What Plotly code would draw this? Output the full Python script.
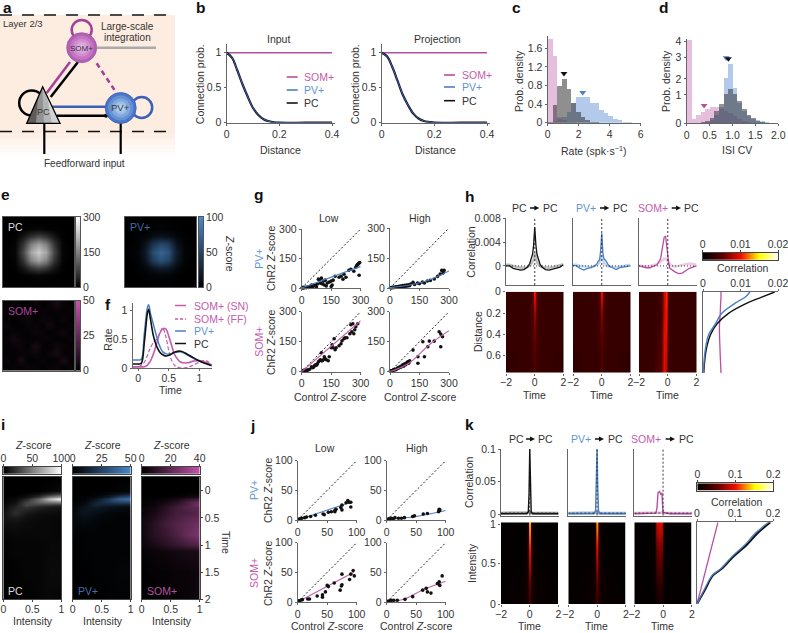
import plotly.graph_objects as go

W, H = 788, 633
INK = "#333333"
SOM = "#b64fa4"
SOM_TXT = "#c45cab"
PV = "#4a7fc2"
PV_TXT = "#5f93d3"
AXC = "#666666"
FONT = "Liberation Sans"

# b: connection probability
b_dist = [0, .02, .04, .06, .08, .1, .12, .14, .16, .18, .2, .3, .4]
b_som = [1, 1, 1, 1, 1, 1, 1, 1, 1, 1, 1, 1, 1]
b_input_exc = [1, .93, .75, .55, .37, .21, .11, .05, .02, .005, 0, 0, 0]
b_proj_exc = [1, .95, .8, .6, .4, .25, .13, .06, .025, .01, 0, 0, 0]

# c: rate histograms
c_bins = [.15, .45, .75, 1.05, 1.35, 1.65, 1.95, 2.25, 2.55, 2.85, 3.15, 3.45, 3.75, 4.05, 4.35, 4.65, 4.95, 5.25, 5.55, 5.85]
c_som = [1.8, 1.43, .13, .05, .02, .01, 0, 0, 0, 0, 0, 0, 0, 0, 0, 0, 0, 0, 0, 0]
c_pc = [.02, .38, .8, .95, .73, .42, .24, .12, .05, .02, .01, 0, 0, 0, 0, 0, 0, 0, 0, 0]
c_pv = [0, .03, .08, .12, .22, .42, .55, .55, .55, .43, .43, .28, .2, .14, .08, .05, .02, .01, 0, 0]
c_mark_x = [.13, 1.05, 2.26]
c_mark_y = [1.92, 1.06, .65]

# d: ISI CV histograms
d_bins = [.05, .15, .25, .35, .45, .55, .65, .75, .85, .95, 1.05, 1.15, 1.25, 1.35, 1.45, 1.55, 1.65, 1.75, 1.85, 1.95]
d_som = [4.05, .2, .37, .53, .7, .8, .8, .7, .6, .5, .35, .2, .1, .05, .02, 0, 0, 0, 0, 0]
d_pc = [0, 0, 0, .03, .1, .25, .6, .95, 1.4, 1.65, 1.4, 1.05, .7, .4, .25, .1, .05, .02, 0, 0]
d_pv = [0, 0, 0, 0, .05, .15, .4, .8, 2.2, 2.9, 1.7, 1.0, .6, .35, .2, .13, .1, .05, .02, 0]
d_mark_x = [.38, .86, .91]
d_mark_y = [.86, 3.19, 3.14]
d_tick_pos = [0, 1.37, 2.15, 3.22, 4]
d_tick_txt = ["0", "1", "2", "3", "4"]

# e: receptive fields
e_pc = [[0, 0, 0, 0, 0, 0, 0, 0, 0],
        [0, 0, 2, 5, 8, 5, 2, 0, 0],
        [0, 2, 25, 60, 80, 60, 25, 2, 0],
        [0, 5, 60, 150, 190, 150, 60, 5, 0],
        [0, 8, 85, 195, 240, 195, 80, 8, 0],
        [0, 5, 60, 155, 195, 155, 60, 5, 0],
        [0, 2, 25, 65, 85, 65, 25, 2, 0],
        [0, 0, 2, 5, 8, 5, 2, 0, 0],
        [0, 0, 0, 0, 0, 0, 0, 0, 0]]
e_pv = [[0, 0, 0, 1, 1, 1, 0, 0, 0],
        [0, 0, 1, 2, 3, 2, 1, 0, 0],
        [0, 1, 4, 10, 14, 12, 5, 1, 0],
        [0, 2, 12, 38, 52, 45, 15, 3, 0],
        [1, 3, 18, 55, 72, 62, 22, 4, 1],
        [0, 2, 14, 45, 60, 50, 18, 3, 0],
        [0, 1, 5, 15, 22, 18, 7, 1, 0],
        [0, 0, 1, 3, 4, 3, 1, 0, 0],
        [0, 0, 0, 1, 1, 1, 0, 0, 0]]
e_som = [[1, 2, 1, 0, 3, 1, 2, 6, 2, 1],
         [2, 1, 3, 1, 1, 2, 1, 2, 1, 2],
         [1, 0, 2, 4, 1, 3, 2, 1, 3, 1],
         [3, 1, 1, 2, 2, 1, 5, 1, 1, 2],
         [1, 2, 1, 1, 3, 2, 1, 2, 4, 1],
         [2, 5, 2, 1, 1, 2, 2, 1, 1, 2],
         [1, 2, 3, 1, 7, 1, 1, 4, 2, 1],
         [1, 1, 2, 2, 3, 1, 3, 6, 1, 2],
         [2, 1, 6, 1, 1, 2, 1, 1, 7, 1],
         [1, 2, 1, 3, 2, 1, 2, 3, 1, 2]]
cbar_steps = [0, .25, .5, .75, 1]

# f: rate traces
f_t = [-.09, -.05, 0, .05, .1, .15, .17, .2, .25, .3, .35, .4, .45, .5, .55, .6, .7, .8, .9, 1, 1.1, 1.2]
f_pc = [.07, .07, .07, .08, .45, .95, 1.02, .85, .55, .38, .28, .23, .21, .22, .25, .28, .29, .24, .18, .12, .08, .04]
f_pv = [.14, .14, .14, .15, .6, 1.05, 1.1, .95, .75, .55, .38, .28, .25, .24, .25, .27, .28, .23, .17, .12, .08, .05]
f_sn = [.02, .02, .02, .02, .02, .05, .08, .12, .25, .42, .6, .68, .68, .55, .38, .22, .1, .09, .12, .13, .1, .05]
f_ff = [.02, .02, .02, .05, .1, .22, .28, .35, .45, .5, .6, .7, .55, .3, .12, .04, 0, .01, .05, .1, .13, .05]

# g: ChR2 vs control scatter
g_pv_low_x = [2, 5, 8, 10, 15, 20, 25, 30, 35, 40, 45, 50, 55, 60, 70, 75, 80, 85, 90, 95, 100, 105, 110, 115, 120, 125, 130, 140, 150, 150, 155, 160, 170, 190, 200, 210, 215, 225, 240, 250, 265, 275, 280, 285, 290, 295, 292]
g_pv_low_y = [1, 2, 0, 3, 1, 4, 2, 5, 3, 8, 5, 15, 4, 12, 15, 5, 20, 45, 40, 25, 50, 20, 35, 15, 40, 10, 25, 30, 35, 8, 15, 40, 60, 55, 60, 45, 70, 55, 90, 95, 85, 105, 115, 120, 125, 130, 65]
g_pv_low_fit_x = [0, 300]
g_pv_low_fit_y = [0, 110]
g_pv_high_x = [2, 5, 8, 12, 16, 20, 25, 30, 35, 40, 45, 50, 55, 60, 65, 70, 75, 80, 85, 90, 95, 100, 105, 117, 125, 140, 150, 165, 175, 190, 205, 225, 242, 255, 263, 270, 275]
g_pv_high_y = [1, 2, 1, 3, 2, 4, 3, 5, 6, 4, 8, 6, 10, 7, 12, 8, 14, 9, 15, 10, 16, 12, 20, 28, 18, 25, 22, 30, 25, 35, 38, 45, 58, 70, 88, 75, 88]
g_pv_high_fit_x = [0, 100, 200, 300]
g_pv_high_fit_y = [2, 15, 40, 85]
g_som_low_x = [5, 10, 15, 20, 25, 30, 35, 40, 50, 55, 60, 65, 70, 75, 80, 85, 90, 95, 100, 100, 105, 110, 115, 120, 125, 135, 140, 150, 155, 160, 165, 170, 175, 190, 200, 205, 215, 220, 230, 245, 250, 255, 265, 270, 275, 285, 260]
g_som_low_y = [5, 7, 5, 8, 6, 8, 10, 12, 25, 20, 22, 30, 35, 32, 40, 50, 55, 60, 55, 95, 55, 60, 75, 65, 60, 55, 75, 120, 135, 120, 165, 110, 120, 130, 140, 155, 165, 170, 170, 190, 235, 200, 190, 210, 225, 240, 240]
g_som_low_fit_x = [0, 300]
g_som_low_fit_y = [0, 255]
g_som_high_x = [2, 5, 8, 12, 16, 20, 25, 30, 35, 40, 45, 50, 55, 60, 65, 70, 75, 80, 85, 90, 95, 100, 117, 142, 142, 167, 175, 192, 200, 225, 250, 258, 258, 267]
g_som_high_y = [3, 5, 4, 6, 8, 8, 12, 10, 15, 20, 18, 25, 22, 30, 35, 28, 40, 35, 45, 50, 42, 55, 108, 75, 42, 150, 75, 125, 153, 153, 200, 188, 125, 175]
g_som_high_fit_x = [0, 100, 200, 300]
g_som_high_fit_y = [0, 45, 135, 205]
g_diag = [0, 300]

# h: correlograms and heat maps
h_t = [-2, -1.75, -1.5, -1.25, -1, -.75, -.5, -.35, -.25, -.15, -.08, 0, .08, .15, .25, .35, .5, .75, 1, 1.25, 1.5, 1.75, 2]
h_pc = [0, 0, -.0004, -.0006, -.0007, -.0006, -.0002, .0004, .0012, .002, .0035, .0065, .0035, .002, .0012, .0004, -.0002, -.0006, -.0007, -.0005, -.0004, -.0002, .0002]
h_pc_ff = [.0002, .0002, 0, -.0002, -.0003, -.0003, -.0002, 0, .0003, .0006, .001, .0022, .001, .0006, .0003, 0, -.0002, -.0003, -.0003, -.0002, 0, .0002, .0003]
h_pv = [.0001, 0, -.0004, -.0007, -.0004, -.0003, 0, .0003, .0008, .001, .0025, .0055, .0022, .0012, .001, .0005, 0, -.0003, -.0006, -.0003, -.0002, -.0001, 0]
h_pv_ff = [.0002, .0002, 0, -.0001, -.0002, -.0002, 0, .0002, .0003, .0006, .001, .0018, .001, .0005, .0003, 0, -.0001, -.0002, -.0002, -.0001, 0, .0001, .0002]
h_som = [0, -.0002, -.0003, -.0003, -.0001, .0002, .0012, .0035, .0048, .005, .0035, .0012, .0002, -.0004, -.0006, -.0008, -.001, -.0013, -.0012, -.0008, -.0004, -.0002, 0]
h_som_ff = [.0001, 0, -.0001, 0, .0001, .0003, .0007, .001, .0012, .0012, .001, .0007, .0004, .0002, .0001, 0, -.0001, 0, .0002, .0003, .0004, .0003, .0002]
h_ref_x = [-2, 2]
h_ref_y = [-.0032, .008]
h_dist = [0, .05, .1, .2, .3, .4, .5, .6, .76]
h_hm_t = [-2, -1, -.5, -.25, -.12, -.05, 0, .05, .12, .25, .5, 1, 2]
h_hm_pc = [[.003, .003, .003, .0035, .0055, .010, .018, .010, .0055, .0035, .003, .003, .003],
           [.003, .003, .003, .0035, .0055, .0095, .0165, .0095, .0055, .0035, .003, .003, .003],
           [.003, .003, .003, .0035, .0055, .0085, .0125, .0085, .0055, .0035, .003, .003, .003],
           [.003, .003, .003, .0035, .005, .007, .0095, .007, .005, .0035, .003, .003, .003],
           [.003, .003, .003, .0035, .0045, .006, .0075, .006, .0045, .0035, .003, .003, .003],
           [.003, .003, .003, .0035, .0045, .0055, .0065, .0055, .0045, .0035, .003, .003, .003],
           [.003, .003, .003, .0035, .004, .005, .006, .005, .004, .0035, .003, .003, .003],
           [.0025, .003, .003, .0035, .004, .0045, .0055, .0045, .004, .0035, .003, .003, .0025],
           [.0025, .003, .003, .003, .0035, .004, .005, .004, .0035, .003, .003, .003, .0025]]
h_hm_pv = [[.003, .003, .003, .0035, .0055, .0095, .0155, .0095, .0055, .0035, .003, .003, .003],
           [.003, .003, .003, .0035, .0055, .009, .014, .009, .0055, .0035, .003, .003, .003],
           [.003, .003, .003, .0035, .005, .008, .0115, .008, .005, .0035, .003, .003, .003],
           [.003, .003, .003, .0035, .0045, .0065, .0085, .0065, .0045, .0035, .003, .003, .003],
           [.003, .003, .003, .0035, .0045, .0055, .007, .0055, .0045, .0035, .003, .003, .003],
           [.003, .003, .003, .0035, .004, .005, .006, .005, .004, .0035, .003, .003, .003],
           [.003, .003, .003, .0035, .004, .0045, .0055, .0045, .004, .0035, .003, .003, .003],
           [.0025, .003, .003, .003, .0035, .004, .005, .004, .0035, .003, .003, .003, .0025],
           [.0025, .003, .003, .003, .0035, .004, .0045, .004, .0035, .003, .003, .003, .0025]]
h_hm_som = [[.003, .003, .0035, .0085, .0105, .009, .0055, .004, .0033, .003, .003, .003, .003],
            [.003, .003, .0035, .0085, .0105, .009, .0055, .004, .0033, .003, .003, .003, .003],
            [.003, .003, .0035, .0085, .0105, .009, .0055, .004, .0033, .003, .003, .003, .003],
            [.003, .003, .0035, .0085, .01, .0085, .0055, .004, .0033, .003, .003, .003, .003],
            [.003, .003, .0038, .009, .01, .008, .005, .004, .0033, .003, .003, .003, .003],
            [.003, .003, .004, .0095, .0095, .0075, .005, .0038, .0033, .003, .003, .003, .003],
            [.003, .003, .0042, .0095, .009, .007, .0048, .0037, .0033, .003, .003, .003, .003],
            [.003, .003, .0045, .0095, .0085, .0065, .0045, .0036, .0032, .003, .003, .003, .003],
            [.003, .003, .005, .0095, .008, .006, .0045, .0035, .0032, .003, .003, .003, .003]]
h_side_pc_x = [.0191, .0155, .012, .0068, .0037, .002, .0011, .0006, .0002]
h_side_pv_x = [.0125, .0112, .0088, .005, .0033, .0015, .0008, .0004, .0001]
h_side_som_x = [.0048, .0048, .0047, .0046, .0044, .0044, .0045, .0046, .0048]

# i: z-score maps
i_int = [0, .2, .4, .6, .8, 1]
i_t = [-.26, 0, .05, .1, .15, .2, .25, .3, .4, .5, .6, .8, 1, 1.1, 1.5, 2]
i_pc = [[0, 0, 0, 0, 0, 0], [0, 0, 0, 0, 2, 4], [0, 0, 2, 6, 15, 25], [0, 2, 6, 18, 45, 60],
        [1, 3, 15, 40, 75, 100], [2, 6, 25, 40, 50, 55], [3, 10, 28, 25, 22, 18], [4, 14, 20, 14, 10, 8],
        [6, 18, 10, 6, 5, 4], [8, 10, 6, 4, 3, 3], [5, 6, 4, 3, 3, 2], [2, 3, 3, 3, 3, 2],
        [1, 2, 2, 2, 3, 3], [1, 2, 2, 2, 3, 3], [0, 1, 2, 2, 4, 4], [0, 1, 1, 2, 3, 2]]
i_pv = [[0, 0, 0, 0, 0, 0], [0, 0, 0, 0, 1, 2], [0, 0, 1, 3, 7, 12], [0, 1, 3, 9, 22, 30],
        [0, 1, 7, 20, 36, 42], [1, 3, 12, 20, 25, 27], [1, 5, 14, 12, 11, 9], [2, 7, 10, 7, 5, 4],
        [3, 8, 5, 3, 2, 2], [3, 5, 3, 2, 1, 1], [2, 3, 2, 1, 1, 1], [1, 1, 1, 1, 1, 1],
        [0, 1, 1, 1, 1, 1], [0, 1, 1, 1, 1, 1], [0, 0, 1, 1, 2, 2], [0, 0, 0, 1, 1, 1]]
i_som = [[0, 0, 0, 0, 0, 0], [0, 0, 0, 0, 0, 0], [0, 0, 0, 0, 1, 2], [0, 0, 1, 2, 3, 5],
         [0, 1, 2, 5, 9, 13], [1, 2, 4, 8, 15, 22], [1, 2, 6, 11, 16, 24], [2, 3, 8, 13, 18, 20],
         [2, 5, 9, 14, 15, 18], [3, 6, 11, 15, 18, 20], [3, 8, 13, 17, 20, 23], [3, 8, 11, 16, 21, 26],
         [2, 5, 8, 11, 14, 17], [1, 2, 3, 4, 5, 6], [0, 1, 1, 2, 2, 3], [0, 0, 1, 1, 2, 3]]

# j: ChR2 vs control scatter, intensity protocol
j_pv_low_x = [2, 4, 7, 12, 15, 22, 30, 43, 45, 52, 57, 63, 65, 63, 73, 75, 75, 82, 85, 90, 90, 87]
j_pv_low_y = [1, 2, 3, 4, 5, 6, 8, 10, 9, 13, 14, 16, 18, 14, 21, 25, 17, 29, 33, 30, 22, 30]
j_pv_low_fit_x = [0, 90]
j_pv_low_fit_y = [0, 30]
j_pv_high_x = [2, 4, 6, 8, 11, 14, 20, 25, 30, 44, 47, 62, 69, 88, 89, 89, 90]
j_pv_high_y = [1, 2, 1, 3, 2, 4, 3, 3, 4, 6, 7, 10, 11, 14, 18, 16, 17]
j_pv_high_fit_x = [0, 50, 100]
j_pv_high_fit_y = [1, 6, 16]
j_som_low_x = [2, 5, 8, 17, 20, 33, 42, 42, 47, 50, 52, 62, 72, 74, 75, 75, 88, 90, 94, 96]
j_som_low_y = [2, 3, 4, 5, 5, 10, 8, 12, 17, 28, 26, 32, 20, 27, 29, 47, 38, 47, 53, 44]
j_som_low_fit_x = [0, 95]
j_som_low_fit_y = [0, 50]
j_som_high_x = [2, 5, 8, 12, 18, 31, 44, 61, 67, 69, 75, 86, 89, 90, 94]
j_som_high_y = [1, 2, 3, 3, 3, 4.5, 9, 20, 23, 17, 15, 31, 34, 28, 44]
j_som_high_fit_x = [0, 30, 60, 100]
j_som_high_fit_y = [0, 5, 20, 35]
j_diag = [0, 100]

# k: intensity correlograms
k_t = [-2, -1, -.5, -.2, -.1, -.05, 0, .05, .1, .2, .5, 1, 2]
k_pc = [.001, .001, .001, .001, .004, .03, .1, .03, .004, .001, .001, .001, .001]
k_pv = [.001, .001, .001, .001, .006, .04, .1, .04, .006, .001, .001, .001, .001]
k_ff = [.002, .002, .002, .002, .002, .003, .004, .003, .002, .002, .002, .002, .002]
k_som_t = [-2, -1, -.5, -.42, -.35, -.25, -.15, -.08, -.03, 0, .5, 1, 2]
k_som = [.001, .001, .002, .01, .033, .035, .03, .033, .01, .003, .001, .001, .001]
k_ref_x = [-2, 2]
k_ref_y = [-.002, .1]
k_int = [0, .25, .5, .75, 1]
k_hm_t = [-2, -.5, -.2, -.08, -.03, 0, .03, .08, .2, .5, 2]
k_hm_pc = [[.003, .005, .01, .018, .03, .035, .03, .018, .01, .005, .003],
           [.002, .005, .01, .025, .05, .06, .05, .025, .01, .005, .002],
           [.002, .003, .008, .03, .08, .09, .08, .03, .008, .003, .002],
           [.001, .002, .006, .03, .11, .125, .11, .03, .006, .002, .001],
           [.001, .002, .005, .03, .135, .155, .135, .03, .005, .002, .001]]
k_hm_pv = [[.003, .005, .01, .018, .03, .035, .03, .018, .01, .005, .003],
           [.002, .005, .01, .025, .05, .055, .05, .025, .01, .005, .002],
           [.002, .003, .008, .03, .075, .085, .075, .03, .008, .003, .002],
           [.001, .002, .006, .03, .105, .12, .105, .03, .006, .002, .001],
           [.001, .002, .005, .03, .13, .15, .13, .03, .005, .002, .001]]
k_som_hm_t = [-2, -.6, -.45, -.2, -.05, 0, .1, 2]
k_hm_som = [[.003, .003, .008, .012, .008, .004, .003, .003],
            [.002, .003, .02, .028, .02, .006, .002, .002],
            [.002, .002, .04, .05, .04, .008, .002, .002],
            [.001, .002, .06, .07, .06, .01, .001, .001],
            [.001, .002, .085, .095, .085, .012, .001, .001]]
k_side_y = [0, .165, .35, .43, .58, .72, .86, 1]
k_side_pc_x = [0, .02, .042, .065, .096, .13, .158, .193]
k_side_pv_x = [0, .018, .04, .062, .092, .125, .152, .188]
k_side_som_x = [0, .055]
k_side_som_y = [0, 1]

HOT = [[0, "#000000"], [.25, "#5a0000"], [.5, "#f01000"], [.75, "#ffff00"], [1, "#ffffff"]]
GRAY = [[0, "#000000"], [1, "#ffffff"]]
BLUE = [[0, "#000000"], [1, "#4a88cc"]]
MAG = [[0, "#000000"], [1, "#c455ab"]]

fig = go.Figure()
layout_axes = {}
shapes = []
notes = []
n_axes = 1


def axes(rect, xr, yr, xt=None, yt=None, xl=None, yl=None, xside="bottom",
         show_x=True, show_y=True, frame=False, lc=AXC, lw=1.3, xstand=0):
    global n_axes
    n_axes += 1
    x0, y0, x1, y1 = rect
    xa = dict(domain=[x0 / W, x1 / W], range=xr, anchor=f"y{n_axes}", side=xside, showgrid=False,
              zeroline=False, showline=show_x or frame, linecolor=lc, linewidth=lw, mirror=frame,
              tickfont=dict(size=10.5, color=INK, family=FONT), layer="above traces", ticklabeloverflow="allow",
              ticklabelstandoff=-2 if xside == "top" else xstand)
    ya = dict(domain=[1 - y1 / H, 1 - y0 / H], range=yr, anchor=f"x{n_axes}", showgrid=False,
              zeroline=False, showline=show_y or frame, linecolor=lc, linewidth=lw, mirror=frame,
              tickfont=dict(size=10.5, color=INK, family=FONT), layer="above traces", ticklabeloverflow="allow")
    for ax, t, lab in ((xa, xt, xl), (ya, yt, yl)):
        if t is None:
            ax.update(showticklabels=False, ticks="")
        else:
            ax.update(tickmode="array", tickvals=t, ticktext=lab if lab else [str(v) for v in t],
                      ticks="outside", ticklen=2, tickcolor=lc, tickwidth=1)
    layout_axes[f"xaxis{n_axes}"] = xa
    layout_axes[f"yaxis{n_axes}"] = ya
    return dict(xaxis=f"x{n_axes}", yaxis=f"y{n_axes}")


def line_tr(ref, x, y, color, width=1.5, dash=None, shape="linear"):
    fig.add_trace(go.Scatter(x=x, y=y, mode="lines", line=dict(color=color, width=width, dash=dash, shape=shape),
                             hoverinfo="skip", **ref))


def heat(ref, x, y, z, scale, zmax):
    fig.add_trace(go.Heatmap(x=x, y=y, z=z, colorscale=scale, zmin=0, zmax=zmax, zsmooth="best",
                             showscale=False, hoverinfo="skip", **ref))


def txt(x, y, s, size=10.5, color=INK, rot=0, bold=False, anchor="center"):
    notes.append(dict(x=x / W, y=1 - y / H, xref="paper", yref="paper", text=f"<b>{s}</b>" if bold else s,
                      showarrow=False, textangle=rot, xanchor=anchor, yanchor="middle",
                      font=dict(size=size, color=color, family=FONT)))


def seg(x0, y0, x1, y1, color="#000000", width=2, dash=None):
    shapes.append(dict(type="line", xref="paper", yref="paper", x0=x0 / W, x1=x1 / W, y0=1 - y0 / H, y1=1 - y1 / H,
                       line=dict(color=color, width=width, dash=dash)))


def rect_s(x0, y0, x1, y1, fill):
    shapes.append(dict(type="rect", xref="paper", yref="paper", x0=x0 / W, x1=x1 / W, y0=1 - y0 / H, y1=1 - y1 / H,
                       fillcolor=fill, line=dict(width=0), layer="below"))


def circ(cx, cy, r, fill="rgba(0,0,0,0)", color="#000000", width=0):
    shapes.append(dict(type="circle", xref="paper", yref="paper", x0=(cx - r) / W, x1=(cx + r) / W,
                       y0=1 - (cy + r) / H, y1=1 - (cy - r) / H, fillcolor=fill,
                       line=dict(color=color, width=width)))


def poly(pts, fill, color="rgba(0,0,0,0)", width=0):
    p = "M " + " L ".join(f"{x / W:.5f},{1 - y / H:.5f}" for x, y in pts) + " Z"
    shapes.append(dict(type="path", xref="paper", yref="paper", path=p, fillcolor=fill,
                       line=dict(color=color, width=width)))


def arrow_title(items, y, arrows):
    for xc, s, c in items:
        txt(xc, y, s, color=c)
    for x0, x1 in arrows:
        seg(x0, y, x1 - 3, y, "#111111", 1.5)
        poly([(x1 - 5, y - 2.5), (x1, y), (x1 - 5, y + 2.5)], "#111111")


# panel a, schematic
for i, frac in enumerate([0, .15, .3, .45, .6, .75, .9]):
    a = 1 - frac
    rect_s(0, 131 + i * 3.5, 175, 134.5 + i * 3.5, f"rgba(253,236,224,{a:.2f})")
rect_s(0, 15, 175, 131, "#fdece0")
seg(0, 15, 175, 15, "#111111", 1.3, "12px,10px")
seg(0, 131.5, 175, 131.5, "#111111", 1.3, "12px,10px")
circ(81.7, 30, 10, color="#a63f9a", width=2.5)
circ(31.7, 103, 12.5, color="#000000", width=2.5)
circ(141.7, 107.5, 10.5, color="#3d5fb5", width=2.5)
seg(97, 47.7, 156, 47.7, "#aaaaaa", 2.5)
seg(70, 62, 46.7, 93, "#a63f9a", 2.5)
seg(78, 62, 50.7, 97, "#000000", 2.5)
seg(51.7, 106.7, 108, 106.7, "#3d5fb5", 2.5)
seg(56.7, 115.7, 108, 115.7, "#000000", 2.5)
circ(106, 115.7, 2, fill="#000000")
seg(96.7, 63.3, 116.7, 93.3, "#a63f9a", 2.5, "5px,4px")
seg(44.3, 122, 44.3, 154, "#000000", 2.2)
seg(120.7, 120, 120.7, 154, "#000000", 2.2)
for i, c in enumerate(["#b560b5", "#c377c3", "#d08dcf", "#dca3db", "#e6b9e4"]):
    circ(81.7, 47.7, 15 - i * 3, fill=c)
circ(81.7, 47.7, 15, color="#9c5aa3", width=.8)
for i, c in enumerate(["#4b78c6", "#6691d4", "#82a9df", "#9dc0e9", "#b5d3f1"]):
    circ(120.7, 108, 15.5 - i * 3, fill=c)
circ(120.7, 108, 15.5, color="#3d5fb5", width=.8)
poly([(42.7, 86.7), (26.7, 123.3), (60, 123.3)], "#d4d4d4")
poly([(42.7, 86.7), (26.7, 123.3), (52, 123.3), (47, 96.5)], "#b4b4b4")
poly([(42.7, 86.7), (26.7, 123.3), (44, 123.3), (42.7, 100)], "#929292")
poly([(38, 97.5), (26.7, 123.3), (36, 123.3)], "#5c5c5c")
poly([(42.7, 86.7), (26.7, 123.3), (60, 123.3)], "rgba(0,0,0,0)", "#000000", 1.3)
txt(22.7, 24, "Layer 2/3", 9.5)
txt(128, 26, "Large-scale", 10)
txt(128, 37.7, "integration", 10)
txt(81.7, 48, "SOM+", 8)
txt(43, 112, "PC", 9)
txt(121, 108, "PV+", 9.5)
txt(84, 163, "Feedforward input", 10)

# panel letters
for lx, ly, s in [(7, 7, "a"), (200, 8, "b"), (516, 7, "c"), (663, 8, "d"), (5, 194, "e"), (108, 304, "f"),
                  (258, 195, "g"), (470, 196, "h"), (3, 424, "i"), (252, 425, "j"), (469, 424, "k")]:
    txt(lx, ly, s, 15.5, "#111111", bold=True)

# panel b
for x0, proj, title, xc in [(226.7, b_input_exc, "Input", 278), (381.7, b_proj_exc, "Projection", 437.7)]:
    r = axes([x0, 44, x0 + 108, 122.7], [0, .41], [0, 1.125], [0, .2, .4], [0, .5, 1])
    line_tr(r, b_dist, b_som, SOM, 1.6)
    line_tr(r, b_dist, proj, "#111111", 2.2, shape="spline")
    line_tr(r, b_dist, proj, "#3d5fb5", 1, shape="spline")
    txt(xc, 39, title)
    txt(x0 + 54, 150, "Distance")
    txt(x0 - 26.5, 84, "Connection prob.", rot=-90)
for lx, tx, ys in [(286.7, 302, [77, 90, 103]), (444, 460, [75, 87, 100.7])]:
    for yy, s, c, tc in zip(ys, ["SOM+", "PV+", "PC"], [SOM, PV, "#111111"], [SOM_TXT, PV_TXT, INK]):
        seg(lx, yy, lx + 11, yy, c, 1.6)
        txt(tx, yy, s, color=tc, anchor="left")

# panels c and d
r = axes([547.7, 36, 640.7, 122.7], [0, 6], [0, 1.866], [0, 2, 4, 6], [0, .4, .8, 1.2, 1.6])
for v, col in [(c_som, "rgba(205,125,190,.5)"), (c_pv, "rgba(105,150,215,.5)"), (c_pc, "rgba(40,40,40,.52)")]:
    fig.add_trace(go.Bar(x=c_bins, y=v, width=.3, marker=dict(color=col, line=dict(width=0)), hoverinfo="skip", **r))
fig.add_trace(go.Scatter(x=c_mark_x, y=c_mark_y, mode="markers", cliponaxis=False,
                         marker=dict(symbol="triangle-down", size=6, color=[SOM, "#111111", PV]), **r))
txt(519, 81, "Prob. density", rot=-90)
txt(594, 150, "Rate (spk·s<sup>−1</sup>)")

r = axes([686.7, 39, 778.3, 123], [0, 2], [0, 4.1], [0, .5, 1, 1.5, 2], d_tick_pos, ["0", "0.5", "1.0", "1.5", "2.0"], d_tick_txt)
for v, col in [(d_som, "rgba(205,125,190,.5)"), (d_pv, "rgba(105,150,215,.5)"), (d_pc, "rgba(40,40,40,.5)")]:
    fig.add_trace(go.Bar(x=d_bins, y=v, width=.1, marker=dict(color=col, line=dict(width=0)), hoverinfo="skip", **r))
fig.add_trace(go.Scatter(x=d_mark_x, y=d_mark_y, mode="markers", cliponaxis=False,
                         marker=dict(symbol="triangle-down", size=6, color=[SOM, PV, "#111111"]), **r))
txt(666, 81, "Prob. density", rot=-90)
txt(736.7, 150, "ISI CV")

# panel e
for rect, z, scale, zmax, name, col, cbx, ticks in [
    ([3, 217, 74, 287], e_pc, GRAY, 300, "PC", "#dddddd", 76, [0, 150, 300]),
    ([125, 217, 196, 287], e_pv, BLUE, 100, "PV+", "#3f6ea8", 199, [0, 50, 100]),
    ([3, 300.7, 74, 370.7], e_som, MAG, 50, "SOM+", "#a8479a", 76, [0, 25, 50]),
]:
    r = axes(rect, [-.5, len(z) - .5], [len(z) - .5, -.5], frame=True, lc="#555555", lw=.8)
    heat(r, None, None, z, scale, zmax)
    txt(rect[0] + 3, rect[1] + 10, name, color=col, anchor="left")
    r = axes([cbx, rect[1], cbx + 4, rect[3]], [0, 1], [0, 1], yt=[t / zmax for t in ticks], yl=[str(t) for t in ticks],
             frame=True, lc="#555555", lw=.6)
    layout_axes[r["yaxis"].replace("y", "yaxis")].update(side="right", ticks="", anchor=r["xaxis"])
    heat(r, [0, 1], cbar_steps, [[s, s] for s in cbar_steps], scale, 1)
txt(230, 253, "<i>Z</i>-score", rot=90)

# panel f
r = axes([132.7, 303, 211.7, 368], [-.09, 1.2], [0, 1.13], [0, .5, 1], [0, .5, 1], ["0", "0.5", "1"], ["0", "0.5", "1"], xstand=-2)
line_tr(r, f_t, f_ff, SOM_TXT, 1.2, "4px,2px", "spline")
line_tr(r, f_t, f_sn, SOM_TXT, 1.6, shape="spline")
line_tr(r, f_t, f_pv, PV, 1.5, shape="spline")
line_tr(r, f_t, f_pc, "#111111", 1.6, shape="spline")
txt(107.7, 340, "Rate", rot=-90)
txt(170, 390, "Time")
for yy, s, c, d, tc in [(305.5, "SOM+ (SN)", SOM_TXT, None, SOM_TXT), (319, "SOM+ (FF)", SOM_TXT, "3px,2px", SOM_TXT),
                        (331, "PV+", PV, None, PV_TXT), (343.5, "PC", "#111111", None, INK)]:
    seg(175, yy, 186, yy, c, 1.5, d)
    txt(192, yy, s, color=tc, anchor="left")

# panel g
g_panels = [
    (301.7, 229, 288, g_pv_low_x, g_pv_low_y, g_pv_low_fit_x, g_pv_low_fit_y, PV),
    (390, 228, 288, g_pv_high_x, g_pv_high_y, g_pv_high_fit_x, g_pv_high_fit_y, PV),
    (301.7, 311.7, 371.7, g_som_low_x, g_som_low_y, g_som_low_fit_x, g_som_low_fit_y, SOM_TXT),
    (390, 311.7, 371.7, g_som_high_x, g_som_high_y, g_som_high_fit_x, g_som_high_fit_y, SOM_TXT),
]
for x0, y0, y1, px, py, fx, fy, col in g_panels:
    r = axes([x0, y0, x0 + 59, y1], [0, 300], [0, 300], [0, 150, 300], [0, 150, 300], lw=1)
    line_tr(r, g_diag, g_diag, "#222222", 1, "2px,2px")
    fig.add_trace(go.Scatter(x=px, y=py, mode="markers", cliponaxis=False,
                             marker=dict(size=3.6, color="#111111"), hoverinfo="skip", **r))
    line_tr(r, fx, fy, col, 1.1, shape="spline")
txt(329, 217.7, "Low")
txt(420, 217.7, "High")
txt(258.7, 259, "PV+", color=PV_TXT, rot=-90)
txt(271, 258, "ChR2 <i>Z</i>-score", rot=-90)
txt(258.7, 342, "SOM+", color=SOM_TXT, rot=-90)
txt(271, 342, "ChR2 <i>Z</i>-score", rot=-90)
txt(330, 397, "Control <i>Z</i>-score")
txt(420, 397, "Control <i>Z</i>-score")

# panel h
h_columns = [(506, h_pc, h_pc_ff, "#111111", "#bbbbbb", h_hm_pc), (573, h_pv, h_pv_ff, PV, "#c3d5ee", h_hm_pv),
             (639, h_som, h_som_ff, SOM, "#efc8e4", h_hm_som)]
for i, (x0, v, ff, col, light, hm) in enumerate(h_columns):
    r = axes([x0, 218.3, x0 + 57.5, 285], [-2, 2], [-.0032, .008], yt=[0, .004, .008] if i == 0 else None,
             yl=["0", "0.004", "0.008"] if i == 0 else None)
    line_tr(r, h_t, ff, light, 2.4)
    line_tr(r, h_t, v, col, 1.3)
    line_tr(r, h_ref_x, [0, 0], "#222222", .9, "1px,2px")
    line_tr(r, [0, 0], h_ref_y, "#222222", .9, "2px,2px")
    r = axes([x0, 291.7, x0 + 57.5, 372.7], [-2, 2], [.76, 0], [-2, 0, 2], [0, .2, .4, .6] if i == 0 else None,
             ["−2", "0", "2"], ["0", "0.2", "0.4", "0.6"] if i == 0 else None, show_x=False, show_y=False, xstand=-2)
    heat(r, h_hm_t, h_dist, hm, HOT, .02)
    txt(x0 + 28.7, 395, "Time")
arrow_title([(519.3, "PC", INK), (550, "PC", INK), (586, "PV+", PV_TXT), (620, "PC", INK),
             (653, "SOM+", SOM_TXT), (691, "PC", INK)], 208, [(530, 539.3), (600, 609.3), (671.7, 681)])
txt(471, 251.7, "Correlation", rot=-90)
txt(478, 332, "Distance", rot=-90)
r = axes([702.7, 252.7, 778, 260], [0, .02], [0, 1], [0, .01, .02], xl=["0", "0.01", "0.02"], xside="top", frame=True, lc="#444444", lw=.8)
heat(r, [s * .02 for s in cbar_steps], [0, 1], [cbar_steps, cbar_steps], HOT, 1)
txt(743, 268, "Correlation")
r = axes([703, 292, 778, 373], [0, .02], [.76, 0], [0, .01, .02], xl=["0", "0.01", "0.02"], xside="top")
line_tr(r, h_side_som_x, h_dist, SOM, 1.3, shape="spline")
line_tr(r, h_side_pc_x, h_dist, "#111111", 1.4, shape="spline")
line_tr(r, h_side_pv_x, h_dist, PV, 1.4, shape="spline")

# panel i
i_columns = [(3.3, i_pc, GRAY, 100, "PC", "#dddddd", [0, 50, 100]),
             (72.7, i_pv, BLUE, 50, "PV+", "#3f6ea8", [0, 25, 50]),
             (141.7, i_som, MAG, 40, "SOM+", "#b553a3", [0, 20, 40])]
for x0, z, scale, zmax, name, col, ticks in i_columns:
    r = axes([x0, 466.7, x0 + 58, 474], [0, zmax], [0, 1], ticks, frame=True, lc="#444444", lw=.7, xside="top")
    heat(r, [s * zmax for s in cbar_steps], [0, 1], [cbar_steps, cbar_steps], scale, 1)
    right = name == "SOM+"
    r = axes([x0, 476.7, x0 + 58, 599.3], [0, 1], [2, -.26], [0, .5, 1], [0, .5, 1, 1.5, 2] if right else None,
             ["0", "0.5", "1"], ["0", "0.5", "1", "1.5", "2"] if right else None, show_x=False, show_y=False, frame=True,
             lc="#444444", lw=.7, xstand=-2)
    if right:
        layout_axes[r["yaxis"].replace("y", "yaxis")].update(side="right")
    heat(r, i_int, i_t, z, scale, zmax)
    txt(x0 + 3, 591, name, color=col, anchor="left")
    txt(x0 + 30, 445, "<i>Z</i>-score")
    txt(x0 + 30, 620.7, "Intensity")
txt(226, 542, "Time", rot=90)

# panel j
j_panels = [
    (297.7, 460.7, 520, j_pv_low_x, j_pv_low_y, j_pv_low_fit_x, j_pv_low_fit_y, PV),
    (386.7, 460.7, 520, j_pv_high_x, j_pv_high_y, j_pv_high_fit_x, j_pv_high_fit_y, PV),
    (297.7, 542.7, 602, j_som_low_x, j_som_low_y, j_som_low_fit_x, j_som_low_fit_y, SOM_TXT),
    (386.7, 542.7, 602, j_som_high_x, j_som_high_y, j_som_high_fit_x, j_som_high_fit_y, SOM_TXT),
]
for x0, y0, y1, px, py, fx, fy, col in j_panels:
    r = axes([x0, y0, x0 + 59, y1], [0, 100], [0, 100], [0, 50, 100], [0, 50, 100], lw=1)
    line_tr(r, j_diag, j_diag, "#222222", 1, "2px,2px")
    line_tr(r, fx, fy, col, 1.1, shape="spline")
    fig.add_trace(go.Scatter(x=px, y=py, mode="markers", cliponaxis=False,
                             marker=dict(size=3.6, color="#111111"), hoverinfo="skip", **r))
txt(325, 448, "Low")
txt(416.7, 448, "High")
txt(254, 490, "PV+", color=PV_TXT, rot=-90)
txt(268, 490, "ChR2 <i>Z</i>-score", rot=-90)
txt(254, 573, "SOM+", color=SOM_TXT, rot=-90)
txt(268, 573, "ChR2 <i>Z</i>-score", rot=-90)
txt(327, 626, "Control <i>Z</i>-score")
txt(417, 626, "Control <i>Z</i>-score")

# panel k
k_columns = [(501, k_t, k_pc, "#111111", "#999999", k_hm_t, k_hm_pc), (568.3, k_t, k_pv, PV, "#9db8de", k_hm_t, k_hm_pv),
             (634.3, k_som_t, k_som, SOM, "#e7b8da", k_som_hm_t, k_hm_som)]
for i, (x0, tt, v, col, light, hmt, hm) in enumerate(k_columns):
    r = axes([x0, 449, x0 + 57.5, 515.7], [-2, 2], [-.002, .1], yt=[0, .05, .1] if i == 0 else None,
             yl=["0", "0.05", "0.1"] if i == 0 else None)
    line_tr(r, k_t, k_ff, light, 2.6)
    line_tr(r, tt, v, col, 1.4)
    line_tr(r, k_ref_x, [.002, .002], "#222222", .8, "2px,2px")
    line_tr(r, [0, 0], k_ref_y, "#222222", .9, "2px,2px")
    r = axes([x0, 522.3, x0 + 57.5, 604], [-2, 2], [0, 1], [-2, 0, 2], [0, .5, .97] if i == 0 else None,
             ["−2", "0", "2"], ["0", "0.5", "1"] if i == 0 else None, show_x=False, show_y=False, xstand=-2)
    heat(r, hmt, k_int, hm, HOT, .2)
    txt(x0 + 28.5, 625.7, "Time")
arrow_title([(516, "PC", INK), (545, "PC", INK), (581, "PV+", PV_TXT), (615, "PC", INK),
             (646, "SOM+", SOM_TXT), (686.7, "PC", INK)], 439, [(526, 535), (595, 604), (665.7, 675)])
txt(469, 482, "Correlation", rot=-90)
txt(472, 563, "Intensity", rot=-90)
r = axes([697.3, 483.3, 773.3, 490.7], [0, .2], [0, 1], [0, .1, .2], xl=["0", "0.1", "0.2"], xside="top", frame=True, lc="#444444", lw=.8)
heat(r, [s * .2 for s in cbar_steps], [0, 1], [cbar_steps, cbar_steps], HOT, 1)
txt(737, 501.7, "Correlation")
r = axes([697, 522.3, 773, 604], [0, .2], [0, 1], [0, .1, .2], xl=["0", "0.1", "0.2"], xside="top")
line_tr(r, k_side_som_x, k_side_som_y, SOM, 1.3)
line_tr(r, k_side_pc_x, k_side_y, "#111111", 2, shape="spline")
line_tr(r, k_side_pv_x, k_side_y, PV, 1.3, shape="spline")

fig.update_layout(width=W, height=H, margin=dict(l=0, r=0, t=0, b=0, autoexpand=False), paper_bgcolor="white",
                  plot_bgcolor="white", showlegend=False, barmode="overlay", bargap=0,
                  font=dict(family=FONT, size=10.5, color=INK), shapes=shapes, annotations=notes, **layout_axes)
# default body margin would push the page 8px off
fig.write_html("out.html", config={"displayModeBar": False},
               post_script="document.body.style.margin='0';document.documentElement.style.overflow='hidden';")
